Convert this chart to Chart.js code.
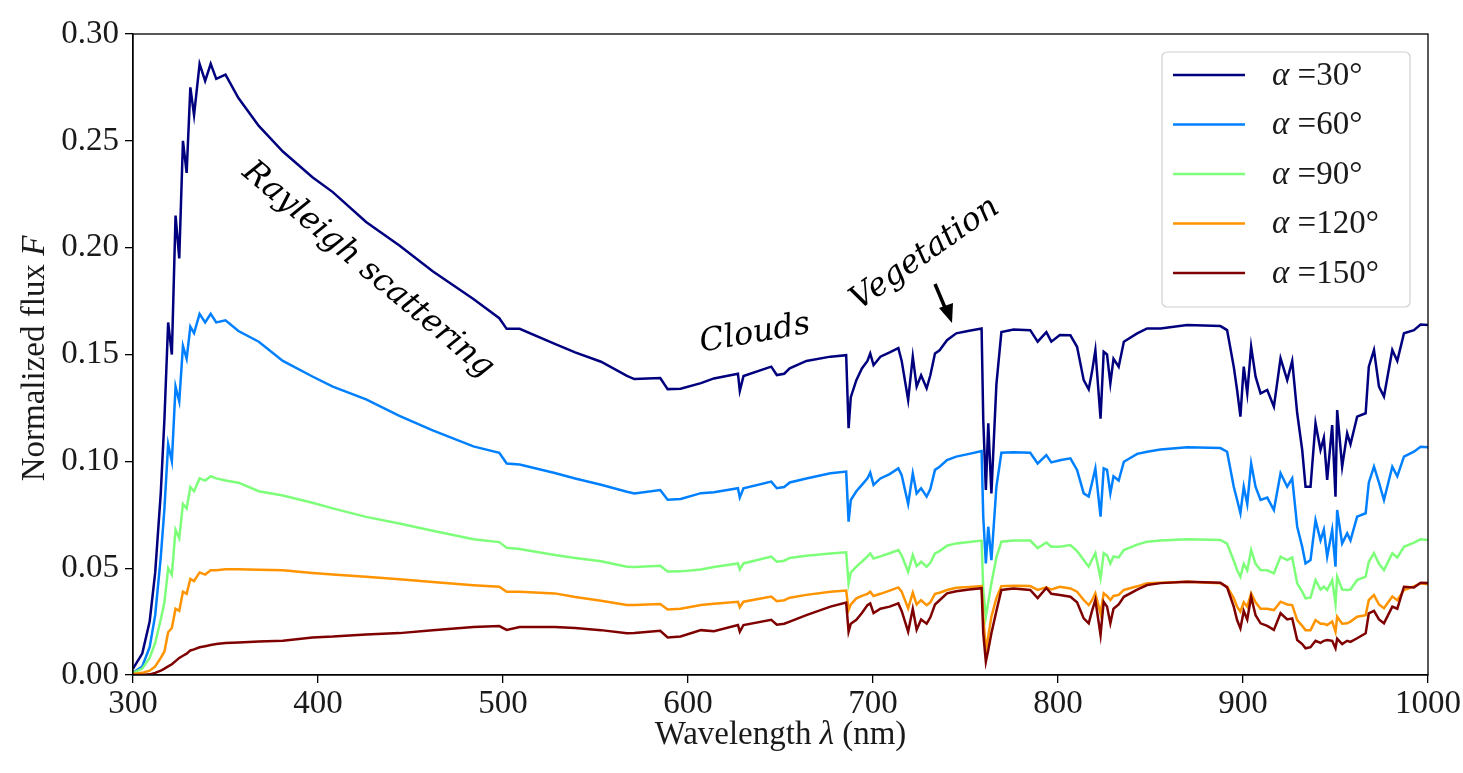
<!DOCTYPE html>
<html>
<head>
<meta charset="utf-8">
<script src="https://cdn.jsdelivr.net/npm/chart.js@4.4.1/dist/chart.umd.min.js"></script>
<style>
  html, body { margin: 0; padding: 0; background: #fff; }
  #wrap { width: 1463px; height: 773px; }
</style>
</head>
<body>
<div id="wrap"><canvas id="flux" width="1463" height="773"></canvas></div>
<script>
// wavelength grid (nm)
const lambdaNm = [
  300, 305, 309, 312, 315, 317, 319, 321, 323, 325, 327, 329, 331, 333, 336, 339, 342, 345, 350, 357,
  368, 381, 397, 408, 426, 444, 462, 484, 498, 502, 509, 528, 539, 553, 567, 571, 585, 589, 596, 607,
  614, 627, 628, 630, 645, 648, 652, 655, 664, 677, 685.5, 686.8, 688, 691, 694, 697, 698.5, 700.3, 704, 709,
  713.7, 715.5, 719, 721.5, 723.6, 726, 729, 731, 733.5, 736, 740, 745, 752, 758.7,
  759.6, 761, 762.3, 764, 766.7, 769.4, 776, 785, 789, 793.7, 796.4, 801,
  806.7, 810.3, 813.9, 816.6, 818.4, 820.2, 823, 824.7, 826.5, 828.3,
  830, 832.8, 835.6, 842.8, 848.2, 855.4, 869.8, 887.8, 891.4, 895,
  896.8, 898.6, 900.4, 902.3, 904.4, 906.8, 909.5, 913.1, 916.7, 920.3,
  923.9, 926.6, 929.3, 932, 933.8, 936.5, 939.2, 941.9, 943.7, 945.5,
  948.2, 950, 950.9, 953.6, 956.3, 958.1, 961.7, 966.3, 968, 970.8,
  973.5, 976.2, 980.7, 983.4, 987, 992.4, 996, 1000
];

const flux30 = [
  0.003, 0.010, 0.025, 0.048, 0.085, 0.120, 0.165, 0.150, 0.215, 0.195, 0.250, 0.235, 0.275, 0.262, 0.286, 0.278, 0.286, 0.279, 0.281, 0.270,
  0.257, 0.245, 0.233, 0.226, 0.212, 0.201, 0.189, 0.176, 0.167, 0.162, 0.162, 0.155, 0.151, 0.1466, 0.140, 0.1385, 0.139, 0.1338, 0.134, 0.1366,
  0.1388, 0.141, 0.133, 0.1399, 0.1443, 0.1404, 0.141, 0.1435, 0.147, 0.149, 0.1497, 0.1155, 0.130, 0.138, 0.1435, 0.147, 0.1505, 0.145, 0.149, 0.151,
  0.153, 0.147, 0.1287, 0.149, 0.135, 0.1403, 0.1342, 0.1403, 0.1505, 0.152, 0.1567, 0.1599, 0.1611, 0.1622,
  0.1193, 0.0866, 0.1178, 0.085, 0.136, 0.1605, 0.1617, 0.1614, 0.156, 0.1605, 0.156, 0.1591,
  0.159, 0.1536, 0.138, 0.1337, 0.142, 0.152, 0.120, 0.1513, 0.150, 0.1365,
  0.148, 0.1443, 0.156, 0.1599, 0.1622, 0.1622, 0.1638, 0.1633, 0.1614, 0.1443,
  0.1334, 0.1209, 0.1443, 0.1318, 0.1537, 0.1396, 0.1318, 0.1334, 0.1256, 0.1482,
  0.138, 0.147, 0.1225, 0.1053, 0.0881, 0.0881, 0.1178, 0.1053, 0.111, 0.0913,
  0.117, 0.0834, 0.124, 0.0975, 0.1131, 0.108, 0.1209, 0.1225, 0.1443, 0.1521,
  0.135, 0.1303, 0.1521, 0.147, 0.1599, 0.1614, 0.164, 0.1638
];

const flux60 = [
  0.001, 0.004, 0.013, 0.028, 0.055, 0.078, 0.108, 0.100, 0.135, 0.128, 0.154, 0.148, 0.163, 0.160, 0.169, 0.165, 0.169, 0.165, 0.166, 0.161,
  0.156, 0.147, 0.1397, 0.135, 0.129, 0.1213, 0.1145, 0.107, 0.104, 0.099, 0.0985, 0.0945, 0.092, 0.089, 0.0858, 0.085, 0.0866, 0.082, 0.0824, 0.0851,
  0.0855, 0.0874, 0.0831, 0.0874, 0.0905, 0.0874, 0.088, 0.0901, 0.092, 0.0944, 0.0952, 0.0718, 0.0819, 0.086, 0.089, 0.092, 0.0947, 0.089, 0.092, 0.094,
  0.0967, 0.0935, 0.080, 0.0944, 0.085, 0.0874, 0.0835, 0.087, 0.096, 0.0975, 0.1006, 0.1022, 0.1035, 0.1048,
  0.074, 0.0522, 0.0694, 0.0538, 0.0881, 0.104, 0.1042, 0.104, 0.099, 0.1029, 0.0995, 0.1005,
  0.1014, 0.096, 0.085, 0.0835, 0.090, 0.0967, 0.0741, 0.0967, 0.096, 0.085,
  0.093, 0.091, 0.0998, 0.1035, 0.1045, 0.1055, 0.1066, 0.1062, 0.1045, 0.0881,
  0.082, 0.0757, 0.0881, 0.080, 0.099, 0.088, 0.0819, 0.083, 0.0772, 0.0944,
  0.0881, 0.092, 0.0694, 0.060, 0.0522, 0.0538, 0.0725, 0.063, 0.068, 0.0554,
  0.0679, 0.0507, 0.0772, 0.0616, 0.0663, 0.063, 0.0741, 0.0757, 0.090, 0.0975,
  0.090, 0.0819, 0.0975, 0.093, 0.1022, 0.1045, 0.1068, 0.1066
];

const flux90 = [
  0.001, 0.003, 0.008, 0.015, 0.026, 0.034, 0.050, 0.047, 0.068, 0.064, 0.080, 0.078, 0.088, 0.086, 0.092, 0.091, 0.093, 0.092, 0.091, 0.090,
  0.086, 0.084, 0.0806, 0.078, 0.074, 0.0709, 0.0675, 0.0635, 0.0622, 0.0595, 0.059, 0.0562, 0.0548, 0.0532, 0.0507, 0.0505, 0.0511, 0.0484, 0.0485, 0.0494,
  0.0505, 0.0522, 0.0494, 0.0522, 0.0554, 0.053, 0.0535, 0.0548, 0.0558, 0.0569, 0.0574, 0.0429, 0.048, 0.0507, 0.053, 0.0555, 0.0569, 0.0545, 0.0555, 0.057,
  0.0585, 0.056, 0.0483, 0.0562, 0.051, 0.053, 0.0507, 0.0525, 0.0569, 0.058, 0.0605, 0.0616, 0.0622, 0.0629,
  0.0398, 0.0273, 0.034, 0.0429, 0.055, 0.0624, 0.063, 0.0629, 0.0594, 0.062, 0.060, 0.060,
  0.0608, 0.058, 0.0538, 0.0507, 0.054, 0.057, 0.0452, 0.057, 0.056, 0.0522,
  0.0555, 0.055, 0.0585, 0.061, 0.0624, 0.063, 0.0635, 0.0632, 0.0615, 0.0535,
  0.0491, 0.046, 0.052, 0.049, 0.0585, 0.052, 0.0491, 0.049, 0.0476, 0.0554,
  0.0538, 0.055, 0.0429, 0.039, 0.0359, 0.0362, 0.0444, 0.040, 0.0413, 0.0398,
  0.0444, 0.0335, 0.046, 0.040, 0.0398, 0.040, 0.0444, 0.046, 0.053, 0.057,
  0.052, 0.0491, 0.057, 0.055, 0.060, 0.062, 0.0635, 0.0632
];

const flux120 = [
  0.0005, 0.001, 0.002, 0.004, 0.008, 0.011, 0.020, 0.022, 0.031, 0.030, 0.039, 0.038, 0.045, 0.044, 0.048, 0.047, 0.049, 0.049, 0.0495, 0.0495,
  0.0493, 0.049, 0.0477, 0.047, 0.046, 0.0448, 0.0435, 0.042, 0.0413, 0.039, 0.039, 0.0382, 0.0365, 0.0348, 0.0328, 0.0328, 0.0332, 0.0307, 0.031, 0.0328,
  0.0333, 0.0343, 0.0317, 0.0343, 0.0367, 0.0345, 0.035, 0.0362, 0.0375, 0.039, 0.0395, 0.0304, 0.033, 0.0359, 0.037, 0.038, 0.039, 0.037, 0.038, 0.0395,
  0.041, 0.039, 0.0312, 0.0385, 0.033, 0.035, 0.0327, 0.034, 0.038, 0.0385, 0.0398, 0.0408, 0.0412, 0.0416,
  0.0273, 0.0117, 0.018, 0.0273, 0.036, 0.0416, 0.0418, 0.0416, 0.0398, 0.041, 0.040, 0.0413,
  0.0405, 0.039, 0.0351, 0.0327, 0.035, 0.0382, 0.0288, 0.0382, 0.037, 0.0351,
  0.037, 0.0375, 0.0398, 0.0415, 0.0429, 0.0432, 0.0437, 0.0429, 0.0413, 0.036,
  0.032, 0.0296, 0.034, 0.032, 0.0382, 0.034, 0.031, 0.031, 0.0304, 0.0343,
  0.033, 0.0327, 0.0257, 0.023, 0.021, 0.021, 0.0257, 0.024, 0.024, 0.0234,
  0.025, 0.0203, 0.0273, 0.024, 0.0242, 0.025, 0.0273, 0.028, 0.0351, 0.0374,
  0.033, 0.0312, 0.0367, 0.035, 0.0398, 0.0415, 0.0429, 0.0425
];

const flux150 = [
  0.0, 0.0, 0.0003, 0.001, 0.002, 0.003, 0.004, 0.005, 0.0065, 0.008, 0.009, 0.010, 0.0115, 0.012, 0.013, 0.0135, 0.014, 0.0145, 0.015, 0.0152,
  0.0157, 0.016, 0.0176, 0.018, 0.019, 0.0196, 0.021, 0.0225, 0.0229, 0.0211, 0.0225, 0.0225, 0.022, 0.021, 0.0195, 0.0197, 0.0207, 0.0176, 0.018, 0.021,
  0.0205, 0.0234, 0.0203, 0.0234, 0.0258, 0.0235, 0.024, 0.025, 0.028, 0.032, 0.0339, 0.0203, 0.024, 0.0258, 0.029, 0.0327, 0.0335, 0.029, 0.031, 0.032,
  0.0335, 0.030, 0.0203, 0.031, 0.0212, 0.026, 0.024, 0.027, 0.033, 0.035, 0.0382, 0.0392, 0.040, 0.0406,
  0.0195, 0.0062, 0.0117, 0.0195, 0.030, 0.0398, 0.0405, 0.0398, 0.036, 0.0408, 0.038, 0.0374,
  0.0366, 0.034, 0.0265, 0.0242, 0.030, 0.0351, 0.0187, 0.0343, 0.032, 0.0242,
  0.031, 0.033, 0.0366, 0.040, 0.0421, 0.043, 0.0437, 0.0432, 0.041, 0.032,
  0.0257, 0.0218, 0.030, 0.026, 0.0366, 0.028, 0.0242, 0.023, 0.0211, 0.0289,
  0.026, 0.0265, 0.0164, 0.0145, 0.0125, 0.013, 0.016, 0.015, 0.016, 0.0164,
  0.016, 0.0125, 0.017, 0.0145, 0.016, 0.0155, 0.0172, 0.0195, 0.0289, 0.030,
  0.026, 0.0242, 0.032, 0.031, 0.0413, 0.041, 0.0432, 0.043
];

const phaseAngles = ["30", "60", "90", "120", "150"];
const seriesColors = ["#00007f", "#0080ff", "#7dff7a", "#ff9400", "#7f0000"];
const allFlux = [flux30, flux60, flux90, flux120, flux150];

const xTicks = [300, 400, 500, 600, 700, 800, 900, 1000];
const yTicks = [0.0, 0.05, 0.10, 0.15, 0.20, 0.25, 0.30];

const SERIF = "'Liberation Serif', 'Times New Roman', serif";

function drawParts(ctx, parts, x, y) {
  // parts: [text, italic, font] triples, drawn left to right, centred on x
  let total = 0;
  parts.forEach((p) => {
    ctx.font = (p[1] ? "italic " : "") + p[2];
    total += ctx.measureText(p[0]).width;
  });
  let cx = x - total / 2;
  parts.forEach((p) => {
    ctx.font = (p[1] ? "italic " : "") + p[2];
    ctx.fillText(p[0], cx, y);
    cx += ctx.measureText(p[0]).width;
  });
}

const overlay = {
  id: "overlay",
  afterDraw(chart) {
    const ctx = chart.ctx;
    const a = chart.chartArea;
    ctx.save();

    // full frame
    ctx.strokeStyle = "#000";
    ctx.lineWidth = 1.3;
    ctx.strokeRect(a.left, a.top, a.right - a.left, a.bottom - a.top);

    // axis titles
    ctx.fillStyle = "#1a1a1a";
    ctx.textAlign = "left";
    ctx.textBaseline = "alphabetic";
    drawParts(ctx, [["Wavelength ", false, "33px " + SERIF], ["\u03bb", true, "33px " + SERIF], [" (nm)", false, "33px " + SERIF]], (a.left + a.right) / 2, 744);
    ctx.save();
    ctx.translate(44, (a.top + a.bottom) / 2 + 4);
    ctx.rotate(-Math.PI / 2);
    drawParts(ctx, [["Normalized flux ", false, "33px " + SERIF], ["F", true, "33px " + SERIF]], 0, 0);
    ctx.restore();

    // legend
    const lx = 1162, ly = 52, lw = 248, lh = 255;
    ctx.beginPath();
    ctx.roundRect(lx, ly, lw, lh, 5);
    ctx.fillStyle = "rgba(255,255,255,0.85)";
    ctx.fill();
    ctx.strokeStyle = "#d0d0d0";
    ctx.lineWidth = 1.2;
    ctx.stroke();
    chart.data.datasets.forEach((ds, i) => {
      const yy = 75 + i * 49.5;
      ctx.strokeStyle = ds.borderColor;
      ctx.lineWidth = 2.5;
      ctx.beginPath();
      ctx.moveTo(1173, yy);
      ctx.lineTo(1245, yy);
      ctx.stroke();
      ctx.fillStyle = "#1a1a1a";
      ctx.textBaseline = "middle";
      ctx.font = "italic 33px " + SERIF;
      ctx.fillText("\u03b1", 1272, yy + 1);
      const w = ctx.measureText("\u03b1").width;
      ctx.font = "33px " + SERIF;
      ctx.fillText(" =" + phaseAngles[i] + "\u00b0", 1272 + w, yy + 1);
    });

    // annotations
    ctx.fillStyle = "#000";
    ctx.textAlign = "center";
    ctx.textBaseline = "middle";
    const note = (txt, x, y, deg) => {
      ctx.save();
      ctx.translate(x, y);
      ctx.rotate(deg * Math.PI / 180);
      ctx.font = "italic 32px 'DejaVu Serif', serif";
      ctx.fillText(txt, 0, 0);
      ctx.restore();
    };
    note("Rayleigh scattering", 368, 270, 40);
    note("Clouds", 755, 334, -10);
    note("Vegetation", 925, 254, -35);

    // arrow to the red edge
    ctx.strokeStyle = "#000";
    ctx.lineWidth = 3.5;
    ctx.beginPath();
    ctx.moveTo(935, 284);
    ctx.lineTo(946, 310);
    ctx.stroke();
    ctx.beginPath();
    ctx.moveTo(952, 323);
    ctx.lineTo(939, 308);
    ctx.lineTo(953, 303);
    ctx.closePath();
    ctx.fillStyle = "#000";
    ctx.fill();

    ctx.restore();
  }
};

const datasets = allFlux.map((vals, i) => ({
  label: "\u03b1 =" + phaseAngles[i] + "\u00b0",
  data: lambdaNm.map((x, j) => ({ x: x, y: vals[j] })),
  borderColor: seriesColors[i],
  backgroundColor: seriesColors[i],
  borderWidth: 2.5,
  pointRadius: 0,
  tension: 0,
  fill: false,
  order: 4 - i,
}));

new Chart(document.getElementById("flux").getContext("2d"), {
  type: "line",
  data: { datasets },
  options: {
    responsive: false,
    animation: false,
    layout: { padding: { left: 0, right: 32, top: 34, bottom: 0 } },
    plugins: { legend: { display: false }, tooltip: { enabled: false } },
    scales: {
      x: {
        type: "linear",
        min: 300,
        max: 1000,
        afterFit: (scale) => { scale.height = 98; },
        afterBuildTicks: (scale) => { scale.ticks = xTicks.map((v) => ({ value: v })); },
        ticks: {
          color: "#1a1a1a",
          font: { family: SERIF, size: 33 },
          padding: 2,
          maxRotation: 0,
          callback: (v) => String(v),
        },
        grid: { drawOnChartArea: false, drawTicks: true, tickLength: 8, color: "#000", lineWidth: 1.3 },
        border: { display: true, color: "#000", width: 1.3 },
      },
      y: {
        min: 0,
        max: 0.30,
        afterFit: (scale) => { scale.width = 133; },
        afterBuildTicks: (scale) => { scale.ticks = yTicks.map((v) => ({ value: v })); },
        ticks: {
          color: "#1a1a1a",
          font: { family: SERIF, size: 33 },
          padding: 6,
          callback: (v) => Number(v).toFixed(2),
        },
        grid: { drawOnChartArea: false, drawTicks: true, tickLength: 8, color: "#000", lineWidth: 1.3 },
        border: { display: true, color: "#000", width: 1.3 },
      },
    },
  },
  plugins: [overlay],
});
</script>
</body>
</html>
